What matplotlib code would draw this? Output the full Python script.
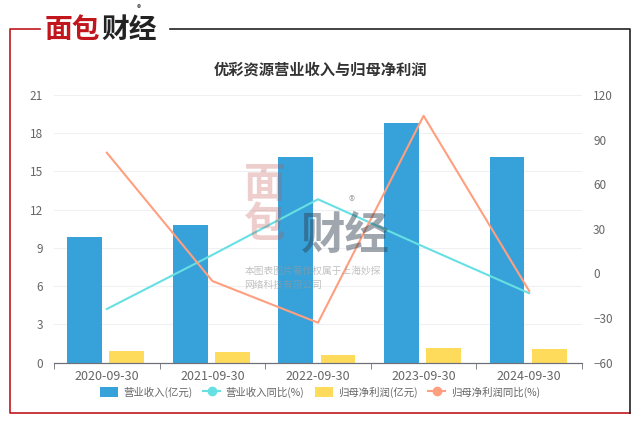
import numpy as np
import matplotlib
matplotlib.use("Agg")
import matplotlib.pyplot as plt
from matplotlib.lines import Line2D
from matplotlib.patches import Patch

plt.rcParams['font.family'] = ['Noto Sans CJK SC', 'DejaVu Sans']

# data
dates = ['2020-09-30', '2021-09-30', '2022-09-30', '2023-09-30', '2024-09-30']
revenue = [9.86, 10.8, 16.11, 18.78, 16.16]          # 营业收入(亿元)
revenue_yoy = [-23.9, 12.5, 49.9, 18.0, -13.3]       # 营业收入同比(%)
profit = [0.9, 0.85, 0.58, 1.18, 1.05]               # 归母净利润(亿元)
profit_yoy = [81.2, -5.1, -33.1, 106.0, -11.8]       # 归母净利润同比(%)

left_ticks = [0, 3, 6, 9, 12, 15, 18, 21]
right_ticks = [-60, -30, 0, 30, 60, 90, 120]

c_blue = '#37a2da'
c_cyan = '#67e0e3'
c_yellow = '#ffdb5c'
c_orange = '#ff9f7f'
c_text = '#666666'

fig = plt.figure(figsize=(6.4, 4.24), dpi=100)
ax = fig.add_axes([54 / 640, 1 - 362.7 / 424, 528 / 640, 267.7 / 424])
ax2 = ax.twinx()

x = np.arange(len(dates))
ax.bar(x - 0.21, revenue, width=0.33, color=c_blue, zorder=2)
ax.bar(x + 0.19, profit, width=0.33, color=c_yellow, zorder=2)

ax2.plot(x, revenue_yoy, color=c_cyan, lw=1.5, zorder=3)
ax2.plot(x, profit_yoy, color=c_orange, lw=1.5, zorder=3)

ax.set_xlim(-0.5, len(dates) - 0.5)
ax.set_ylim(0, 21)
ax2.set_ylim(-60, 120)
ax.set_yticks(left_ticks)
ax2.set_yticks(right_ticks)

ax.set_xticks(x)
ax.set_xticklabels(dates)
ax.set_xticks(np.arange(-0.5, len(dates)), minor=True)
ax.tick_params(axis='x', which='major', length=0, colors=c_text, labelsize=9, pad=5)
ax.tick_params(axis='x', which='minor', length=4, color='#6e7079')
ax.tick_params(axis='y', length=0, colors=c_text, labelsize=8.5, pad=8)
ax2.tick_params(axis='y', length=0, colors=c_text, labelsize=8.5, pad=8)

ax.grid(axis='y', color='#eef0f4', lw=0.8, zorder=0)
ax.set_axisbelow(True)
for a in (ax, ax2):
    for s in ('top', 'left', 'right'):
        a.spines[s].set_visible(False)
    a.spines['bottom'].set_color('#6e7079')
ax.patch.set_alpha(0)

# title
fig.text(0.5, 1 - 70 / 424, '优彩资源营业收入与归母净利润', ha='center', va='center',
         fontsize=11, fontweight='bold', color='#333333')

# legend
handles = [
    Patch(facecolor=c_blue, edgecolor='none'),
    Line2D([0], [0], color=c_cyan, lw=1.5, marker='o', markersize=6),
    Patch(facecolor=c_yellow, edgecolor='none'),
    Line2D([0], [0], color=c_orange, lw=1.5, marker='o', markersize=6),
]
labels = ['营业收入(亿元)', '营业收入同比(%)', '归母净利润(亿元)', '归母净利润同比(%)']
fig.legend(handles, labels, loc='center', bbox_to_anchor=(0.5, 1 - 392 / 424), ncol=4,
           frameon=False, fontsize=7.5, labelcolor=c_text, handlelength=1.7,
           handleheight=1.0, columnspacing=1.0, handletextpad=0.5)

# watermark
fig.text(0.414, 1 - 205 / 424, '面\n包', fontsize=30, color='#c0504d', alpha=0.28,
         ha='center', va='center', linespacing=0.95, fontweight='bold')
fig.text(0.54, 1 - 236 / 424, '财经', fontsize=32, color='#2b3a4a', alpha=0.45,
         ha='center', va='center', fontweight='bold')
fig.text(0.55, 1 - 202 / 424, '®', fontsize=9, color='#555555', alpha=0.5,
         ha='center', va='center')
fig.text(0.382, 1 - 278 / 424, '本图表图片著作权属于上海妙探\n网络科技有限公司', fontsize=7,
         color='#999999', alpha=0.6, ha='left', va='center', linespacing=1.5)

# frame and logo
fl = fig.add_axes([0, 0, 1, 1])
fl.set_xlim(0, 640)
fl.set_ylim(424, 0)
fl.axis('off')
fl.patch.set_alpha(0)
fl.plot([40, 10, 10, 630], [29, 29, 413, 413], color='#c0161c', lw=1.2)
fl.plot([170, 630, 630], [29, 29, 413], color='#222222', lw=1.2)
fl.text(45, 30, '面包', fontsize=20, fontweight='bold', color='#c0161c', va='center', ha='left')
fl.text(101, 30, '财经', fontsize=20, fontweight='bold', color='#222222', va='center', ha='left')
fl.text(139, 9, '®', fontsize=6, color='#333333', va='center', ha='center')

fig.savefig('out.png', dpi=100)
